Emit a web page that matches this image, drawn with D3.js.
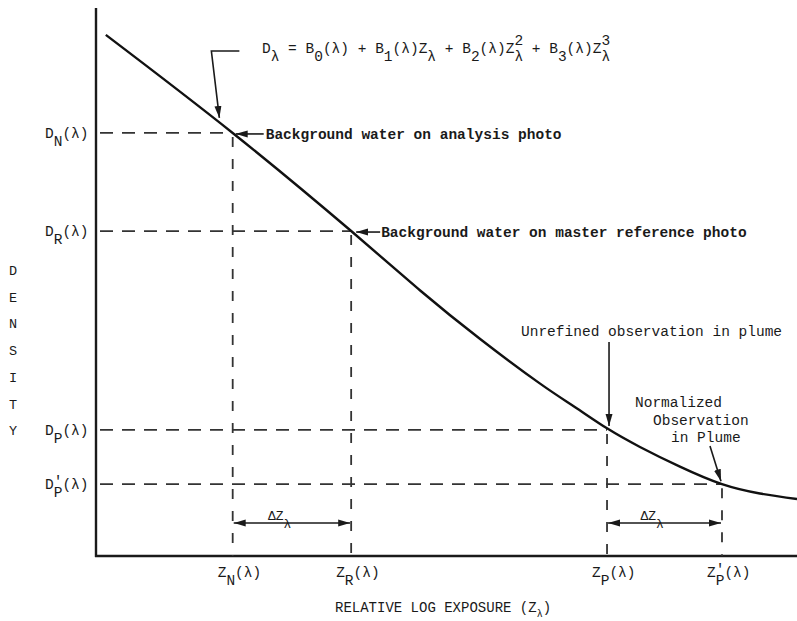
<!DOCTYPE html>
<html>
<head>
<meta charset="utf-8">
<script src="https://cdn.jsdelivr.net/npm/d3@7"></script>
<style>
  body { margin: 0; background: #fff; }
  svg { display: block; font-family: "Liberation Mono", "DejaVu Sans Mono", monospace; }
  text { white-space: pre; fill: #1a1a1a; }
</style>
</head>
<body>
<div id="chart"></div>
<script>
// Characteristic curve (relative log exposure Z vs density D)
const curveZ = [0.14, 1.95, 3.64, 4.62, 5.48, 6.33, 6.83, 7.29, 7.76, 8.33, 8.93, 9.47, 10.0];
const curveD = [9.51, 7.72, 5.93, 4.85, 3.96, 3.15, 2.72, 2.33, 1.99, 1.63, 1.31, 1.14, 1.04];

// Reference levels: N (analysis), R (master ref), P (plume), P' (normalized plume)
const levelKeys = ["N", "R", "P", "P'"];
const levelZ = [1.95, 3.64, 7.29, 8.93];
const levelD = [7.72, 5.93, 2.30, 1.31];

const densityLetters = ["D", "E", "N", "S", "I", "T", "Y"];
const xTitle = "RELATIVE LOG EXPOSURE (Z";

const width = 797, height = 621;
const fs = 14.5;          // typewriter font size
const cw = fs * 0.6;      // monospace cell width
const SUB = 8, SUP = -8;

const x = d3.scaleLinear().domain([0, 10]).range([96, 797]);
const y = d3.scaleLinear().domain([0, 10]).range([556, 8]);

const svg = d3.select("#chart").append("svg")
    .attr("width", width)
    .attr("height", height)
    .attr("font-size", fs);

const defs = svg.append("defs");
defs.append("marker")
    .attr("id", "arrow")
    .attr("viewBox", "0 -5 12 10")
    .attr("refX", 12).attr("refY", 0)
    .attr("markerWidth", 12).attr("markerHeight", 10)
    .attr("markerUnits", "userSpaceOnUse")
    .attr("orient", "auto-start-reverse")
    .append("path")
    .attr("d", "M0,-3.5L12,0L0,3.5Z")
    .attr("fill", "#1a1a1a");

// text made of pieces with baseline shifts (sub/superscripts); back = step back one cell
function richText(g, tx, ty, parts) {
    const t = g.append("text").attr("x", tx).attr("y", ty);
    let cur = 0;
    parts.forEach(p => {
        const ts = t.append("tspan").attr("dy", (p[1] || 0) - cur).text(p[0]);
        if (p[2]) ts.attr("dx", -cw * p[2]);
        if (p[3]) ts.attr("font-size", p[3]);
        cur = p[1] || 0;
    });
    return t;
}

// level label parts, e.g. D_N(λ) or D'_P(λ)
function levelParts(letter, key) {
    if (key.endsWith("'")) {
        return [[letter, 0], ["'", -3], [key[0], SUB, 1], ["(λ)", 0]];
    }
    return [[letter, 0], [key, SUB], ["(λ)", 0]];
}

// axes (plain lines, no ticks)
svg.append("line")
    .attr("x1", x(0)).attr("x2", x(0))
    .attr("y1", y(10)).attr("y2", y(0) + 1)
    .attr("stroke", "#1a1a1a").attr("stroke-width", 2.4);
svg.append("line")
    .attr("x1", x(0) - 1).attr("x2", x(10))
    .attr("y1", y(0)).attr("y2", y(0))
    .attr("stroke", "#1a1a1a").attr("stroke-width", 2.4);

// dashed guides
const guides = svg.append("g").attr("stroke", "#333").attr("stroke-width", 1.8).attr("fill", "none");
levelKeys.forEach((k, i) => {
    guides.append("line")
        .attr("x1", x(0) + 4).attr("x2", x(levelZ[i]))
        .attr("y1", y(levelD[i])).attr("y2", y(levelD[i]))
        .attr("stroke-dasharray", "13,9");
    guides.append("line")
        .attr("x1", x(levelZ[i])).attr("x2", x(levelZ[i]))
        .attr("y1", y(levelD[i]) + 4).attr("y2", y(0))
        .attr("stroke-dasharray", "10,12");
});

// the curve
const line = d3.line()
    .x(d => x(d[0]))
    .y(d => y(d[1]))
    .curve(d3.curveNatural);
svg.append("path")
    .datum(d3.zip(curveZ, curveD))
    .attr("d", line)
    .attr("fill", "none")
    .attr("stroke", "#111")
    .attr("stroke-width", 2.4);

// y-axis level labels
levelKeys.forEach((k, i) => {
    richText(svg, 45, y(levelD[i]) + 5, levelParts("D", k));
});

// x-axis level labels
levelKeys.forEach((k, i) => {
    richText(svg, x(levelZ[i]) - 15, 577, levelParts("Z", k));
});

// DENSITY
svg.append("g").selectAll("text")
    .data(densityLetters)
    .join("text")
    .attr("x", 13)
    .attr("y", (d, i) => 275 + i * 26.7)
    .attr("text-anchor", "middle")
    .attr("font-size", 13.5)
    .text(d => d);

// x title
richText(svg, 335, 612, [[xTitle, 0], ["λ", 5, 0, 10], [")", 0]]).attr("font-size", 14);

// delta Z arrows
const ann = svg.append("g").attr("stroke", "#1a1a1a").attr("stroke-width", 1.6).attr("fill", "none");
[[0, 1], [2, 3]].forEach(([a, b]) => {
    const ay = y(0) - 33;
    ann.append("line")
        .attr("x1", x(levelZ[a]) + 1).attr("x2", x(levelZ[b]) - 1)
        .attr("y1", ay).attr("y2", ay)
        .attr("marker-start", "url(#arrow)")
        .attr("marker-end", "url(#arrow)");
    const mid = (x(levelZ[a]) + x(levelZ[b])) / 2;
    richText(svg, mid - 24, ay - 3, [["ΔZ", 0], ["λ", SUB]]).attr("font-size", 13);
});

// equation + pointer
richText(svg, 262, 53, [
    ["D", 0], ["λ", SUB], [" = B", 0], ["0", SUB], ["(λ) + B", 0], ["1", SUB],
    ["(λ)Z", 0], ["λ", SUB], [" + B", 0], ["2", SUB], ["(λ)Z", 0], ["2", SUP], ["λ", SUB, 1],
    [" + B", 0], ["3", SUB], ["(λ)Z", 0], ["3", SUP], ["λ", SUB, 1]
]);
const ptrZ = 1.76;
ann.append("path")
    .attr("d", `M${x(ptrZ) + 20},51 H${x(ptrZ) - 8} L${x(ptrZ)},${y(levelD[0]) - 15}`)
    .attr("marker-end", "url(#arrow)");

// background water (analysis)
ann.append("line")
    .attr("x1", x(levelZ[0]) + 31).attr("x2", x(levelZ[0]) + 3)
    .attr("y1", y(levelD[0]) + 1).attr("y2", y(levelD[0]) + 1)
    .attr("marker-end", "url(#arrow)");
svg.append("text")
    .attr("x", x(levelZ[0]) + 33).attr("y", y(levelD[0]) + 6)
    .attr("font-weight", "bold")
    .text("Background water on analysis photo");

// background water (master reference)
ann.append("line")
    .attr("x1", x(levelZ[1]) + 29).attr("x2", x(levelZ[1]) + 5)
    .attr("y1", y(levelD[1]) + 1).attr("y2", y(levelD[1]) + 1)
    .attr("marker-end", "url(#arrow)");
svg.append("text")
    .attr("x", x(levelZ[1]) + 30).attr("y", y(levelD[1]) + 6)
    .attr("font-weight", "bold")
    .text("Background water on master reference photo");

// unrefined observation
svg.append("text")
    .attr("x", x(levelZ[2]) - 86).attr("y", 336)
    .text("Unrefined observation in plume");
ann.append("line")
    .attr("x1", x(levelZ[2]) + 2).attr("x2", x(levelZ[2]) + 2)
    .attr("y1", 342).attr("y2", y(levelD[2]) - 4)
    .attr("marker-end", "url(#arrow)");

// normalized observation
const normLines = ["Normalized", "Observation", "in Plume"];
svg.append("g").selectAll("text")
    .data(normLines)
    .join("text")
    .attr("x", (d, i) => x(levelZ[3]) - 87 + i * 18)
    .attr("y", (d, i) => 407 + i * 17.5)
    .text(d => d);
ann.append("line")
    .attr("x1", x(levelZ[3]) - 12).attr("x2", x(levelZ[3]) - 1)
    .attr("y1", 446).attr("y2", y(levelD[3]) - 3)
    .attr("marker-end", "url(#arrow)");
</script>
</body>
</html>
